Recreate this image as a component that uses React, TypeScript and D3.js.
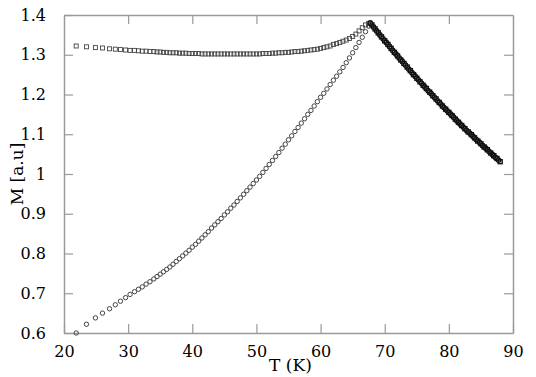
import React, { useEffect, useRef } from "react";
import * as d3 from "d3";

// shared temperatures of the warming branch (K)
const tempsUp = [
  21.9, 23.5, 24.9, 26.0, 27.1, 28.0, 28.8, 29.6, 30.3, 31.0, 31.6, 32.2, 32.8, 33.4, 34.0, 34.5, 35.0,
  35.5, 36.0, 36.5, 37.0, 37.5, 38.0, 38.5, 39.0, 39.5, 40.0, 40.5, 41.0, 41.5, 42.0, 42.5, 43.0,
  43.5, 44.0, 44.5, 45.0, 45.5, 46.0, 46.5, 47.0, 47.5, 48.0, 48.5, 49.0, 49.5, 50.0, 50.5, 51.0,
  51.5, 52.0, 52.5, 53.0, 53.5, 54.0, 54.5, 55.0, 55.5, 56.0, 56.5, 57.0, 57.5, 58.0, 58.5, 59.0,
  59.5, 60.0, 60.5, 61.0, 61.5, 62.0, 62.5, 63.0, 63.5, 64.0, 64.5, 65.0, 65.5, 66.0, 66.5, 67.0, 67.5
];

// zero-field-cooled (circles)
const zfcUp = [
  0.600, 0.622, 0.638, 0.650, 0.661, 0.671, 0.680, 0.689, 0.697, 0.704, 0.710, 0.716, 0.723, 0.729, 0.736, 0.742, 0.748,
  0.754, 0.760, 0.766, 0.773, 0.780, 0.787, 0.794, 0.801, 0.808, 0.816, 0.823, 0.831, 0.839, 0.847, 0.855, 0.864,
  0.872, 0.880, 0.888, 0.897, 0.905, 0.914, 0.922, 0.931, 0.940, 0.949, 0.958, 0.967, 0.976, 0.985, 0.994, 1.004,
  1.014, 1.024, 1.034, 1.044, 1.054, 1.065, 1.075, 1.086, 1.096, 1.107, 1.117, 1.128, 1.139, 1.150, 1.160, 1.171,
  1.182, 1.193, 1.203, 1.214, 1.225, 1.236, 1.246, 1.257, 1.268, 1.280, 1.292, 1.305, 1.318, 1.331, 1.344, 1.358, 1.372
];

// field-cooled (squares)
const fcUp = [
  1.322, 1.320, 1.318, 1.317, 1.315, 1.314, 1.313, 1.312, 1.311, 1.311, 1.310, 1.309, 1.309, 1.308, 1.308, 1.307, 1.307,
  1.306, 1.306, 1.305, 1.305, 1.305, 1.304, 1.304, 1.304, 1.303, 1.303, 1.303, 1.303, 1.302, 1.302, 1.302, 1.302,
  1.302, 1.302, 1.302, 1.302, 1.302, 1.302, 1.302, 1.302, 1.302, 1.302, 1.302, 1.302, 1.302, 1.302, 1.302, 1.303,
  1.303, 1.303, 1.304, 1.304, 1.305, 1.305, 1.306, 1.306, 1.307, 1.308, 1.308, 1.309, 1.310, 1.311, 1.312, 1.313,
  1.314, 1.316, 1.318, 1.320, 1.322, 1.326, 1.328, 1.331, 1.334, 1.337, 1.341, 1.346, 1.352, 1.360, 1.368, 1.375, 1.379
];

// paramagnetic branch above the peak
const zfcDownT = [
  67.75, 68.25, 68.75, 69.25, 69.75, 70.25, 70.75, 71.25, 71.75, 72.25, 72.75, 73.25, 73.75, 74.25,
  74.75, 75.25, 75.75, 76.25, 76.75, 77.25, 77.75, 78.25, 78.75, 79.25, 79.75, 80.25, 80.75, 81.25,
  81.75, 82.25, 82.75, 83.25, 83.75, 84.25, 84.75, 85.25, 85.75, 86.25, 86.75, 87.25, 87.75
];
const zfcDown = [
  1.380, 1.370, 1.360, 1.350, 1.340, 1.331, 1.321, 1.311, 1.302, 1.292, 1.283, 1.274, 1.264, 1.255,
  1.246, 1.237, 1.228, 1.219, 1.210, 1.202, 1.193, 1.184, 1.176, 1.167, 1.159, 1.151, 1.143, 1.134,
  1.126, 1.118, 1.110, 1.103, 1.095, 1.087, 1.080, 1.072, 1.065, 1.057, 1.050, 1.042, 1.035
];
const fcDownT = [
  68.0, 68.5, 69.0, 69.5, 70.0, 70.5, 71.0, 71.5, 72.0, 72.5, 73.0, 73.5, 74.0, 74.5, 75.0, 75.5,
  76.0, 76.5, 77.0, 77.5, 78.0, 78.5, 79.0, 79.5, 80.0, 80.5, 81.0, 81.5, 82.0, 82.5, 83.0, 83.5,
  84.0, 84.5, 85.0, 85.5, 86.0, 86.5, 87.0, 87.5, 88.0
];
const fcDown = [
  1.375, 1.365, 1.355, 1.345, 1.335, 1.326, 1.316, 1.306, 1.297, 1.287, 1.278, 1.269, 1.260, 1.250, 1.241, 1.232,
  1.223, 1.215, 1.206, 1.197, 1.189, 1.180, 1.171, 1.163, 1.155, 1.147, 1.138, 1.130, 1.122, 1.114, 1.106, 1.099,
  1.091, 1.083, 1.076, 1.068, 1.061, 1.053, 1.046, 1.039, 1.031
];

const xTicks = [20, 30, 40, 50, 60, 70, 80, 90];
const yTicks = [0.6, 0.7, 0.8, 0.9, 1.0, 1.1, 1.2, 1.3, 1.4];

const FONT = "DejaVu Serif";

const App = () => {
  const ref = useRef<SVGSVGElement>(null);

  useEffect(() => {
    const svg = d3.select(ref.current);
    svg.selectAll("*").remove();

    const margin = { top: 15, right: 23, bottom: 44, left: 64 };
    const W = 536, H = 377;
    const width = W - margin.left - margin.right;
    const height = H - margin.top - margin.bottom;
    const frame = "#9a9a9a";

    const chart = svg.append("g").attr("transform", `translate(${margin.left},${margin.top})`);

    const x = d3.scaleLinear().domain([20, 90]).range([0, width]);
    const y = d3.scaleLinear().domain([0.6, 1.4]).range([height, 0]);
    const fmt = (d: number) => String(+d.toFixed(1));

    const styleAxis = (g: any, labels: boolean) => {
      g.select(".domain").attr("stroke", frame).attr("stroke-width", 1.5);
      g.selectAll(".tick line").attr("stroke", frame).attr("stroke-width", 1.2);
      g.selectAll(".tick text")
        .attr("fill", "#000")
        .style("font-family", FONT)
        .style("font-size", "16px")
        .style("display", labels ? null : "none");
    };

    // bottom
    chart.append("g")
      .attr("transform", `translate(0,${height})`)
      .call(d3.axisBottom(x).tickValues(xTicks).tickSize(-9).tickSizeOuter(0).tickPadding(13).tickFormat(fmt as any))
      .call((g: any) => styleAxis(g, true));
    // left
    chart.append("g")
      .call(d3.axisLeft(y).tickValues(yTicks).tickSize(-9).tickSizeOuter(0).tickPadding(18).tickFormat(fmt as any))
      .call((g: any) => styleAxis(g, true));
    // top
    chart.append("g")
      .call(d3.axisTop(x).tickValues(xTicks.slice(1, -1)).tickSize(-9).tickSizeOuter(0))
      .call((g: any) => styleAxis(g, false));
    // right
    chart.append("g")
      .attr("transform", `translate(${width},0)`)
      .call(d3.axisRight(y).tickValues(yTicks.slice(1, -1)).tickSize(-9).tickSizeOuter(0))
      .call((g: any) => styleAxis(g, false));

    const fcPts = [...d3.zip(tempsUp, fcUp), ...d3.zip(fcDownT, fcDown)];
    const zfcPts = [...d3.zip(tempsUp, zfcUp), ...d3.zip(zfcDownT, zfcDown)];

    chart.append("g")
      .selectAll("rect")
      .data(fcPts)
      .enter()
      .append("rect")
      .attr("x", (d) => x(d[0]) - 2)
      .attr("y", (d) => y(d[1]) - 2)
      .attr("width", 4)
      .attr("height", 4)
      .attr("fill", "none")
      .attr("stroke", (d) => (d[0] > 67.6 ? "#111" : "#444"))
      .attr("stroke-width", (d) => (d[0] > 67.6 ? 1.4 : 0.9));

    chart.append("g")
      .selectAll("circle")
      .data(zfcPts)
      .enter()
      .append("circle")
      .attr("cx", (d) => x(d[0]))
      .attr("cy", (d) => y(d[1]))
      .attr("r", 2.2)
      .attr("fill", "none")
      .attr("stroke", (d) => (d[0] > 67.6 ? "#111" : "#444"))
      .attr("stroke-width", (d) => (d[0] > 67.6 ? 1.4 : 1));

    // axis titles
    svg.append("text")
      .attr("x", margin.left + x(55.3))
      .attr("y", 371)
      .attr("text-anchor", "middle")
      .style("font-family", FONT)
      .style("font-size", "17px")
      .text("T (K)");

    svg.append("text")
      .attr("transform", `translate(23,${margin.top + y(1.0)}) rotate(-90)`)
      .attr("text-anchor", "middle")
      .style("font-family", FONT)
      .style("font-size", "17px")
      .text("M [a.u]");
  }, []);

  return (
    <svg
      ref={ref}
      width={536}
      height={377}
      style={{ position: "absolute", left: 0, top: 0, background: "#fff" }}
    />
  );
};

export default App;
